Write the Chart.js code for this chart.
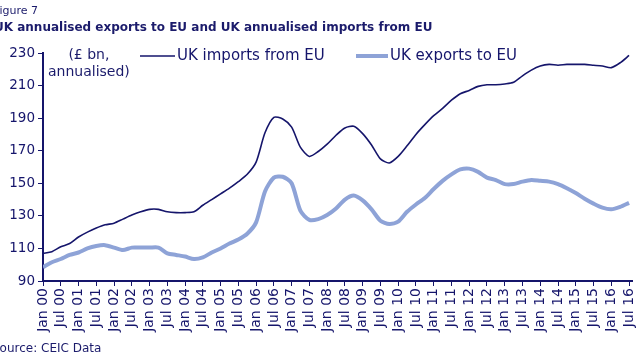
<!DOCTYPE html>
<html lang="en-GB">
<head>
  <meta charset="utf-8">
  <title>UK annualised exports to EU and UK annualised imports from EU</title>
  <script src="https://cdn.jsdelivr.net/npm/chart.js@4"></script>
  <style>
  body { margin: 0; background: #fff; }
  #wrap { position: relative; width: 640px; height: 360px; overflow: hidden; font-family: "DejaVu Sans", Verdana, sans-serif; color: #1b1b6b; }
  canvas { position: absolute; left: 0; top: 0; }
  .txt { position: absolute; white-space: nowrap; }
  #fig { left: -6px; top: 4px; font-size: 11px; }
  #title { left: -6px; top: 20px; font-size: 12px; font-weight: bold; }
  #source { left: -8px; top: 341px; font-size: 12px; }
  #units { left: 48px; top: 46px; font-size: 14px; text-align: center; line-height: 17px; }
  </style>
</head>

<body>
  <div id="wrap">
    <canvas id="chart" width="640" height="360"></canvas>
    <div class="txt" id="fig">Figure 7</div>
    <div class="txt" id="title">UK annualised exports to EU and UK annualised imports from EU</div>
    <div class="txt" id="units">(£ bn,<br>annualised)</div>
    <div class="txt" id="source">Source: CEIC Data</div>
  </div>
  <script>
    // months since Jan 2000, one reading per quarter
    var months = [0, 3, 6, 9, 12, 15, 18, 21, 24, 27, 30, 33, 36, 39, 42, 45, 48, 51, 54, 57,
      60, 63, 66, 69, 72, 75, 78, 81, 84, 87, 90, 93, 96, 99, 102, 105, 108, 111, 114, 117,
      120, 123, 126, 129, 132, 135, 138, 141, 144, 147, 150, 153, 156, 159, 162, 165, 168, 171, 174, 177,
      180, 183, 186, 189, 192, 195, 198];

    var importsEU = [107, 108, 111, 113, 117, 120, 122.5, 124.5, 125.5, 128, 130.5, 132.5, 134, 134, 132.5, 132, 132, 132.5, 136.5, 140,
      143.5, 147, 151, 155.5, 163, 181, 190.5, 189.5, 184.5, 172, 166.5, 169.5, 174, 179.5, 184, 185, 180.5, 173.5, 165, 162.5,
      166.5, 173, 180, 186, 191.5, 196, 201, 205, 207, 209.5, 210.5, 210.5, 211, 212, 216, 219.5, 222, 223, 222.5, 223,
      223, 223, 222.5, 222, 221, 224, 228.5];

    var exportsEU = [98.5, 101.5, 103.5, 106, 107.5, 110, 111.5, 112, 110.5, 109, 110.5, 110.5, 110.5, 110.5, 107, 106, 105, 103.5, 104.5, 107.5,
      110, 113, 115.5, 119, 126, 145, 153.5, 154, 150, 133, 127.5, 128, 130.5, 134.5, 140, 142.5, 139.5, 134, 127, 125,
      126.5, 132.5, 137, 141, 146.5, 151.5, 155.5, 158.5, 159, 157, 153.5, 152, 149.5, 149.5, 151, 152, 151.5, 151, 149.5, 147,
      144, 140.5, 137.5, 135, 134, 135.5, 138];

    var tickLabels = ['Jan 00', 'Jul 00', 'Jan 01', 'Jul 01', 'Jan 02', 'Jul 02', 'Jan 03', 'Jul 03', 'Jan 04', 'Jul 04',
      'Jan 05', 'Jul 05', 'Jan 06', 'Jul 06', 'Jan 07', 'Jul 07', 'Jan 08', 'Jul 08', 'Jan 09', 'Jul 09',
      'Jan 10', 'Jul 10', 'Jan 11', 'Jul 11', 'Jan 12', 'Jul 12', 'Jan 13', 'Jul 13', 'Jan 14', 'Jul 14',
      'Jan 15', 'Jul 15', 'Jan 16', 'Jul 16'];

    var navy = '#15156b';
    var lightBlue = '#8ea3d7';

    var toPoints = function (vals) {
      return vals.map(function (v, i) { return { x: months[i], y: v }; });
    };

    // legend drawn by hand at the spot it sits in the original
    var legendSpots = [{ x: 140, y: 56, len: 35 }, { x: 356, y: 56, len: 32 }];
    var handLegend = {
      id: 'handLegend',
      afterDraw: function (chart) {
        var ctx = chart.ctx;
        ctx.save();
        ctx.font = '15px "DejaVu Sans", Verdana, sans-serif';
        ctx.textBaseline = 'middle';
        chart.data.datasets.forEach(function (ds, i) {
          var p = legendSpots[i];
          ctx.strokeStyle = ds.borderColor;
          ctx.lineWidth = ds.borderWidth;
          ctx.beginPath();
          ctx.moveTo(p.x, p.y);
          ctx.lineTo(p.x + p.len, p.y);
          ctx.stroke();
          ctx.fillStyle = navy;
          ctx.fillText(ds.label, p.x + p.len + 2, p.y);
        });
        ctx.restore();
      }
    };

    var config = {
      type: 'line',
      data: {
        datasets: [{
          label: 'UK imports from EU',
          data: toPoints(importsEU),
          borderColor: navy,
          borderWidth: 1.6,
          pointRadius: 0,
          tension: 0.25
        }, {
          label: 'UK exports to EU',
          data: toPoints(exportsEU),
          borderColor: lightBlue,
          borderWidth: 4,
          pointRadius: 0,
          tension: 0.25
        }]
      },
      options: {
        responsive: false,
        animation: false,
        layout: {
          padding: { top: 53, right: 8, left: 0, bottom: 0 }
        },
        plugins: {
          legend: { display: false },
          tooltip: { enabled: false }
        },
        scales: {
          x: {
            type: 'linear',
            min: 0,
            max: 199,
            afterFit: function (scale) {
              scale.height = 79;
              // let the plot run to the right edge as in the original
              scale.paddingRight = 0;
              scale.paddingLeft = 0;
            },
            border: { color: navy, width: 2 },
            grid: { drawOnChartArea: false, drawTicks: true, tickLength: 5, color: navy },
            ticks: {
              stepSize: 6,
              includeBounds: false,
              autoSkip: false,
              minRotation: 90,
              maxRotation: 90,
              padding: 2,
              color: navy,
              font: { family: '"DejaVu Sans", Verdana, sans-serif', size: 14 },
              callback: function (value) { return tickLabels[value / 6]; }
            }
          },
          y: {
            min: 90,
            max: 230,
            afterFit: function (scale) { scale.width = 43; },
            border: { color: navy, width: 2 },
            grid: { drawOnChartArea: false, drawTicks: true, tickLength: 5, color: navy },
            ticks: {
              stepSize: 20,
              padding: 3,
              color: navy,
              font: { family: '"DejaVu Sans", Verdana, sans-serif', size: 13.5 }
            }
          }
        }
      },
      plugins: [handLegend]
    };

    window.onload = function () {
      var ctx = document.getElementById('chart').getContext('2d');
      window.tradeChart = new Chart(ctx, config);
    };
  </script>
</body>
</html>
